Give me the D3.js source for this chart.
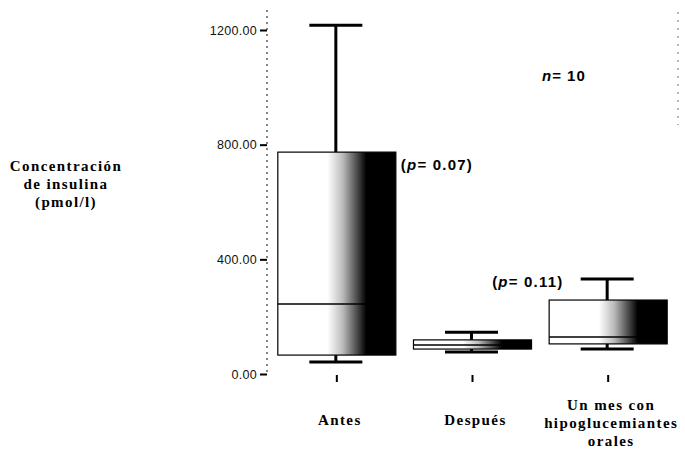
<!DOCTYPE html>
<html>
<head>
<meta charset="utf-8">
<script src="https://d3js.org/d3.v7.min.js"></script>
<style>
  body { margin: 0; background: #fff; }
  svg { display: block; }
  .serif { font-family: "Liberation Serif", "Times New Roman", serif; font-weight: bold; }
  .sans { font-family: "Liberation Sans", Arial, sans-serif; }
</style>
</head>
<body>
<svg id="chart" width="685" height="451"></svg>
<script>
// categories and box statistics (pmol/l)
var categories = ["Antes", "Después", "Un mes con hipoglucemiantes orales"];
var catLines = [["Antes"], ["Después"], ["Un mes con", "hipoglucemiantes", "orales"]];
var minVals = [42, 77, 87];
var q1Vals = [66, 87, 105];
var medianVals = [244, 101, 129];
var q3Vals = [774, 119, 258];
var maxVals = [1217, 146, 331];
var yTicks = [0, 400, 800, 1200];
var pLabels = [{cat: 0, value: 774, text: "0.07"}, {cat: 2, value: 331, text: "0.11"}];

var boxes = categories.map(function(c, i) {
  return {cat: c, min: minVals[i], q1: q1Vals[i], med: medianVals[i], q3: q3Vals[i], max: maxVals[i]};
});

var svg = d3.select("#chart");

var x = d3.scaleBand()
  .domain(categories)
  .range([269, 676])
  .paddingInner(0.13)
  .paddingOuter(0.065);

var y = d3.scaleLinear()
  .domain([0, 1200])
  .range([374, 30]);

// shaded fill: white on the left fading to black on the right
var grad = svg.append("defs").append("linearGradient")
  .attr("id", "shade")
  .attr("x1", "0%").attr("x2", "100%").attr("y1", "0%").attr("y2", "0%");
grad.append("stop").attr("offset", "0%").attr("stop-color", "#fff");
grad.append("stop").attr("offset", "42%").attr("stop-color", "#fff");
grad.append("stop").attr("offset", "55%").attr("stop-color", "#bbb");
grad.append("stop").attr("offset", "66%").attr("stop-color", "#555");
grad.append("stop").attr("offset", "75%").attr("stop-color", "#000");
grad.append("stop").attr("offset", "100%").attr("stop-color", "#000");

// dotted axis line and right frame remnant
svg.append("line")
  .attr("x1", 267).attr("x2", 267)
  .attr("y1", y(1270)).attr("y2", y(5))
  .attr("stroke", "#444").attr("stroke-width", 1.3)
  .attr("stroke-dasharray", "2,4");
svg.append("line")
  .attr("x1", 678).attr("x2", 678)
  .attr("y1", 12).attr("y2", 125)
  .attr("stroke", "#888").attr("stroke-width", 1.2)
  .attr("stroke-dasharray", "2,6");

// y axis
var yAxis = d3.axisLeft(y)
  .tickValues(yTicks)
  .tickFormat(d3.format(".2f"))
  .tickSize(7)
  .tickPadding(3);

var gy = svg.append("g")
  .attr("class", "sans")
  .attr("transform", "translate(267,0)")
  .call(yAxis);
gy.select(".domain").remove();
gy.selectAll(".tick line").attr("stroke", "#000").attr("stroke-width", 2);
gy.selectAll(".tick text")
  .attr("font-size", 12.5)
  .attr("font-family", "Liberation Sans, Arial, sans-serif")
  .attr("letter-spacing", 0.3)
  .attr("fill", "#111");

// x axis (tick marks only; labels drawn below as multi-line text)
var xAxis = d3.axisBottom(x).tickSize(7).tickFormat("");
var gx = svg.append("g")
  .attr("transform", "translate(0,375)")
  .call(xAxis);
gx.select(".domain").remove();
gx.selectAll(".tick line").attr("stroke", "#000").attr("stroke-width", 2);

var capW = 53;
var g = svg.selectAll(".box")
  .data(boxes)
  .enter().append("g")
  .attr("class", "box");

// whiskers
g.append("line")
  .attr("x1", function(d) { return x(d.cat) + x.bandwidth() / 2 - 1; })
  .attr("x2", function(d) { return x(d.cat) + x.bandwidth() / 2 - 1; })
  .attr("y1", function(d) { return y(d.q3); })
  .attr("y2", function(d) { return y(d.max); })
  .attr("stroke", "#000").attr("stroke-width", 3);
g.append("line")
  .attr("x1", function(d) { return x(d.cat) + x.bandwidth() / 2 - 1; })
  .attr("x2", function(d) { return x(d.cat) + x.bandwidth() / 2 - 1; })
  .attr("y1", function(d) { return y(d.q1); })
  .attr("y2", function(d) { return y(d.min); })
  .attr("stroke", "#000").attr("stroke-width", 3);
// caps
[["max"], ["min"]].forEach(function(k) {
  g.append("line")
    .attr("x1", function(d) { return x(d.cat) + x.bandwidth() / 2 - 1 - capW / 2; })
    .attr("x2", function(d) { return x(d.cat) + x.bandwidth() / 2 - 1 + capW / 2; })
    .attr("y1", function(d) { return y(d[k[0]]); })
    .attr("y2", function(d) { return y(d[k[0]]); })
    .attr("stroke", "#000").attr("stroke-width", 3);
});

// boxes
g.append("rect")
  .attr("x", function(d) { return x(d.cat); })
  .attr("width", x.bandwidth())
  .attr("y", function(d) { return y(d.q3); })
  .attr("height", function(d) { return y(d.q1) - y(d.q3); })
  .attr("fill", "url(#shade)")
  .attr("stroke", "#000").attr("stroke-width", 1.2);

// medians
g.append("line")
  .attr("x1", function(d) { return x(d.cat); })
  .attr("x2", function(d) { return x(d.cat) + x.bandwidth(); })
  .attr("y1", function(d) { return y(d.med); })
  .attr("y2", function(d) { return y(d.med); })
  .attr("stroke", "#000").attr("stroke-width", 1.5);

// category labels
var labelTop = [425, 425, 410];
categories.forEach(function(c, i) {
  var t = svg.append("text")
    .attr("class", "serif")
    .attr("text-anchor", "middle")
    .attr("font-size", 15)
    .attr("letter-spacing", 1.4)
    .attr("x", x(c) + x.bandwidth() / 2 + 3)
    .attr("y", labelTop[i]);
  catLines[i].forEach(function(line, j) {
    t.append("tspan")
      .attr("x", x(c) + x.bandwidth() / 2 + 3)
      .attr("dy", j === 0 ? 0 : 18)
      .text(line);
  });
});

// y title
var yt = svg.append("text")
  .attr("class", "serif")
  .attr("text-anchor", "middle")
  .attr("font-size", 15)
  .attr("letter-spacing", 1.4)
  .attr("x", 66).attr("y", 171);
["Concentración", "de insulina", "(pmol/l)"].forEach(function(line, j) {
  yt.append("tspan").attr("x", 66).attr("dy", j === 0 ? 0 : 18).text(line);
});

// p values
pLabels.forEach(function(p) {
  var c = categories[p.cat];
  var px = p.cat === 0 ? x(c) + x.bandwidth() + 5 : x(c) - 57;
  var py = p.cat === 0 ? y(p.value) + 18 : y(p.value) + 8;
  var t = svg.append("text")
    .attr("class", "sans")
    .attr("font-weight", "bold")
    .attr("font-size", 15)
    .attr("letter-spacing", 1.2)
    .attr("x", px).attr("y", py);
  t.append("tspan").text("(");
  t.append("tspan").attr("font-style", "italic").text("p");
  t.append("tspan").text("= " + p.text + ")");
});

// sample size
var nt = svg.append("text")
  .attr("class", "sans")
  .attr("font-weight", "bold")
  .attr("font-size", 15)
  .attr("letter-spacing", 1)
  .attr("x", 542).attr("y", 81);
nt.append("tspan").attr("font-style", "italic").text("n");
nt.append("tspan").text("= 10");
</script>
</body>
</html>
